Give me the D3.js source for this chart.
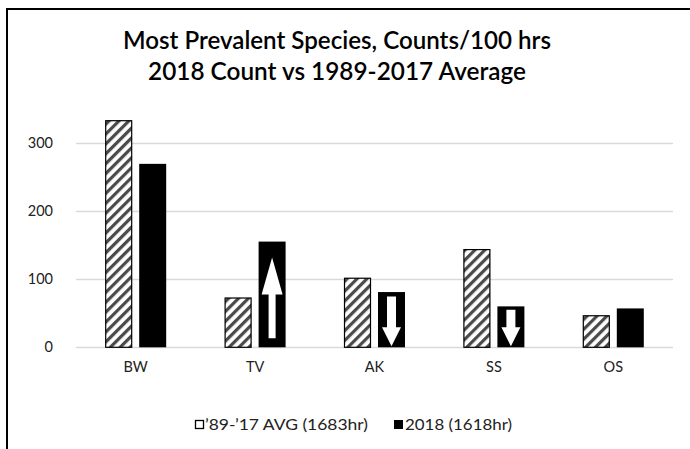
<!DOCTYPE html>
<html>
<head>
<meta charset="utf-8">
<script src="https://cdn.jsdelivr.net/npm/d3@7"></script>
<style>
  html, body { margin: 0; padding: 0; background: #fff; overflow: hidden; }
  svg { display: block; }
  text { font-family: Lato, "Open Sans", sans-serif; }
</style>
</head>
<body>
<svg id="chart" width="690" height="449"></svg>
<script>
// Species codes along the x axis
const species = ["BW", "TV", "AK", "SS", "OS"];
// Counts per 100 hours, 1989-2017 average
const avgCounts = [333, 73, 102, 144, 47];
// Counts per 100 hours, 2018
const counts2018 = [269, 155, 81, 60, 57];
// Direction of change marked on the 2018 bar ("" = no marker)
const changeMarks = ["", "up", "down", "down", ""];
const yTicks = [0, 100, 200, 300];
const seriesNames = ["\u201989-\u201917 AVG (1683hr)", "2018 (1618hr)"];
const titleLines = ["Most Prevalent Species, Counts/100 hrs", "2018 Count vs 1989-2017 Average"];

const svg = d3.select("#chart");

// hatch pattern for the long-term average bars
const defs = svg.append("defs");
const pat = defs.append("pattern")
  .attr("id", "hatch")
  .attr("patternUnits", "userSpaceOnUse")
  .attr("width", 7).attr("height", 7)
  .attr("patternTransform", "rotate(45)");
pat.append("rect").attr("width", 7).attr("height", 7).attr("fill", "#fff");
pat.append("rect").attr("x", 0).attr("width", 3.2).attr("height", 7).attr("fill", "#4a4a4a");
defs.append("filter").attr("id", "soft").append("feGaussianBlur").attr("stdDeviation", 0.5);

// chart frame: only the top and left edges fall inside the view
svg.append("path")
  .attr("d", "M7,449 L7,9 L690,9")
  .attr("fill", "none").attr("stroke", "#000").attr("stroke-width", 2);

// title
const title = svg.append("g");
title.append("text").attr("x", 337).attr("y", 49).attr("text-anchor", "middle")
  .attr("font-size", 24).attr("font-weight", 600).attr("fill", "#000")
  .attr("textLength", 428).attr("lengthAdjust", "spacingAndGlyphs")
  .text(titleLines[0]);
title.append("text").attr("x", 337).attr("y", 80).attr("text-anchor", "middle")
  .attr("font-size", 24).attr("font-weight", 600).attr("fill", "#000")
  .attr("textLength", 378).attr("lengthAdjust", "spacingAndGlyphs")
  .text(titleLines[1]);

const plot = { left: 76, right: 673, top: 100, bottom: 347.3 };

const x = d3.scaleBand().domain(species).range([plot.left, plot.right]).padding(0);
const y = d3.scaleLinear().domain([0, 300]).range([plot.bottom, plot.bottom - 3 * 68.2]);

const barW = 27, barGap = 7;

// gridlines
svg.append("g").selectAll("line").data(yTicks).join("line")
  .attr("x1", plot.left).attr("x2", plot.right)
  .attr("y1", d => Math.round(y(d)) + 0.5).attr("y2", d => Math.round(y(d)) + 0.5)
  .attr("stroke", "#d9d9d9").attr("stroke-width", 1.5);

// y axis labels
const yAxis = d3.axisLeft(y).tickValues(yTicks).tickSize(0).tickPadding(0);
const yg = svg.append("g").attr("transform", `translate(53,0)`).call(yAxis);
yg.select(".domain").remove();
yg.selectAll("text").attr("font-size", 14.5).attr("fill", "#222")
  .attr("font-family", "Lato, 'Open Sans', sans-serif");

// x axis labels
const xAxis = d3.axisBottom(x).tickSize(0).tickPadding(0);
const xg = svg.append("g").attr("transform", `translate(0,${plot.bottom + 14})`).call(xAxis);
xg.select(".domain").remove();
xg.selectAll("text").attr("font-size", 14.5).attr("fill", "#222")
  .attr("font-family", "Lato, 'Open Sans', sans-serif");

const center = d => x(d) + x.bandwidth() / 2;
const avgX = d => center(d) - barGap / 2 - barW;
const newX = d => center(d) + barGap / 2;

const rows = species.map((s, i) => ({ s, avg: avgCounts[i], cur: counts2018[i], mark: changeMarks[i] }));

// average bars (hatched, outlined)
svg.append("g").selectAll("rect").data(rows).join("rect")
  .attr("x", d => avgX(d.s) + 0.5)
  .attr("y", d => y(d.avg) + 0.5)
  .attr("width", barW - 1)
  .attr("height", d => y(0) - y(d.avg) - 0.5)
  .attr("fill", "url(#hatch)")
  .attr("stroke", "#000").attr("stroke-width", 1.2);

// 2018 bars (solid black)
svg.append("g").selectAll("rect").data(rows).join("rect")
  .attr("x", d => newX(d.s))
  .attr("y", d => y(d.cur))
  .attr("width", barW)
  .attr("height", d => y(0) - y(d.cur))
  .attr("fill", "#000");

// white arrows inside the 2018 bars showing the direction of change
function arrowPath(cx, top, bottom, dir, headH, headW, shaftW) {
  if (dir === "up") {
    const base = top + headH;
    return `M${cx},${top} L${cx + headW},${base} L${cx + shaftW},${base} L${cx + shaftW},${bottom}
            L${cx - shaftW},${bottom} L${cx - shaftW},${base} L${cx - headW},${base} Z`;
  }
  const base = bottom - headH;
  return `M${cx},${bottom} L${cx + headW},${base} L${cx + shaftW},${base} L${cx + shaftW},${top}
          L${cx - shaftW},${top} L${cx - shaftW},${base} L${cx - headW},${base} Z`;
}
svg.append("g").selectAll("path").data(rows.filter(d => d.mark)).join("path")
  .attr("d", d => {
    const cx = newX(d.s) + barW / 2;
    const barTop = y(d.cur), barBot = y(0);
    const h = barBot - barTop;
    if (d.mark === "up") return arrowPath(cx, barTop + h * 0.15, barBot - 9, "up", 37, 10.5, 3.5);
    return arrowPath(cx, barTop + Math.max(h * 0.08, 3), barBot - 1, "down", 19, 9.5, 4.5);
  })
  .attr("fill", "#fff")
  .attr("filter", "url(#soft)");

// legend
const legend = svg.append("g").attr("transform", "translate(0,430)");
legend.append("rect").attr("x", 195.5).attr("y", -9.5).attr("width", 8).attr("height", 8)
  .attr("fill", "#fff").attr("stroke", "#000").attr("stroke-width", 1.3);
legend.append("text").attr("x", 205).attr("y", 0).attr("font-size", 14.5).attr("fill", "#222")
  .attr("textLength", 163).attr("lengthAdjust", "spacingAndGlyphs")
  .text(seriesNames[0]);
legend.append("rect").attr("x", 394).attr("y", -10).attr("width", 9).attr("height", 9).attr("fill", "#000");
legend.append("text").attr("x", 405).attr("y", 0).attr("font-size", 14.5).attr("fill", "#222")
  .attr("textLength", 107).attr("lengthAdjust", "spacingAndGlyphs")
  .text(seriesNames[1]);
</script>
</body>
</html>
